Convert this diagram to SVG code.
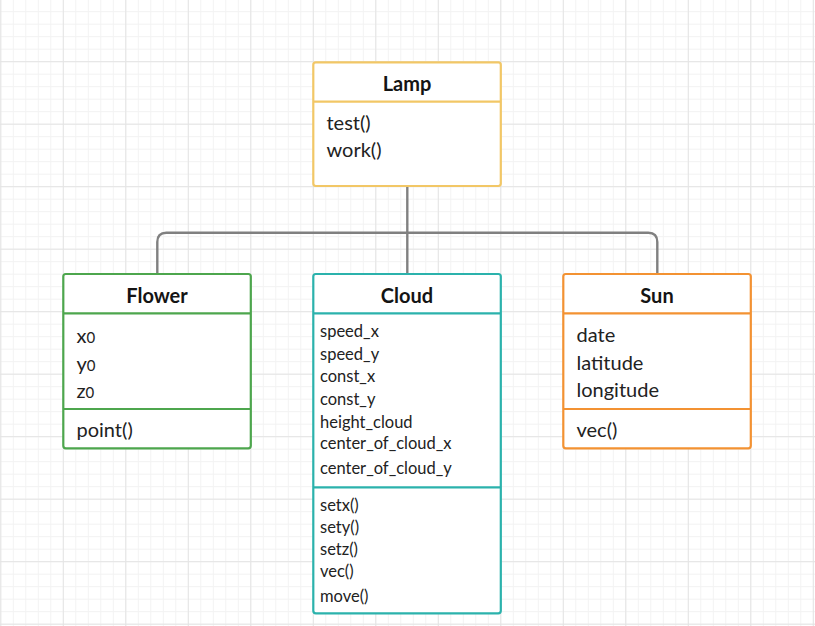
<svg xmlns="http://www.w3.org/2000/svg" width="815" height="626" viewBox="0 0 815 626">
  <defs>
    <pattern id="minor" patternUnits="userSpaceOnUse" x="0.3" y="-1.3" width="12.5" height="12.5">
      <rect x="0" y="0" width="1" height="12.5" fill="#f2f2f2"/>
      <rect x="0" y="0" width="12.5" height="1" fill="#f2f2f2"/>
    </pattern>
    <pattern id="major" patternUnits="userSpaceOnUse" x="0.3" y="-1.3" width="62.5" height="62.5">
      <rect x="0" y="0" width="1" height="62.5" fill="#e4e4e4"/>
      <rect x="0" y="0" width="62.5" height="1" fill="#e4e4e4"/>
    </pattern>
  </defs>
  <style>
    .box { fill: #ffffff; stroke-width: 2.2; }
    .div { stroke-width: 2.2; fill: none; }
    .title { font-family: Lato, "Liberation Sans", sans-serif; font-weight: bold; font-size: 20px; fill: #141414; text-anchor: middle; }
    .body { font-family: Lato, "Liberation Sans", sans-serif; font-size: 20px; fill: #222222; }
    .small { font-family: Lato, "Liberation Sans", sans-serif; font-size: 16.5px; fill: #222222; }
    .sub { font-size: 15px; }
    .conn { fill: none; stroke: #808080; stroke-width: 2.4; }
    .lamp { stroke: #f2c766; }
    .flower { stroke: #4da64d; }
    .cloud { stroke: #2bb2ac; }
    .sun { stroke: #f39232; }
  </style>
  <rect x="0" y="0" width="815" height="626" fill="#ffffff"/>
  <rect x="0" y="0" width="815" height="626" fill="url(#minor)"/>
  <rect x="0" y="0" width="815" height="626" fill="url(#major)"/>

  <g id="connectors">
    <path class="conn" d="M 407.3 186 L 407.3 274"/>
    <path class="conn" d="M 157.3 274 L 157.3 242 Q 157.3 232.7 166.3 232.7 L 648.3 232.7 Q 657.3 232.7 657.3 242 L 657.3 274"/>
  </g>

  <g id="lamp">
    <rect class="box lamp" x="313.3" y="62.3" width="187.5" height="123.7" rx="2.5"/>
    <line class="div lamp" x1="313.3" y1="101.7" x2="500.8" y2="101.7"/>
    <text class="title" x="407" y="90.5">Lamp</text>
    <text class="body" x="326.5" y="130">test()</text>
    <text class="body" x="326.5" y="157.3">work()</text>
  </g>

  <g id="flower">
    <rect class="box flower" x="63.3" y="274" width="187.5" height="174.3" rx="2.5"/>
    <line class="div flower" x1="63.3" y1="313.3" x2="250.8" y2="313.3"/>
    <line class="div flower" x1="63.3" y1="409" x2="250.8" y2="409"/>
    <text class="title" x="157" y="302.7">Flower</text>
    <text class="body" x="76.5" y="343.3">x<tspan class="sub">0</tspan></text>
    <text class="body" x="76.5" y="370.7">y<tspan class="sub">0</tspan></text>
    <text class="body" x="76.5" y="398.3">z<tspan class="sub">0</tspan></text>
    <text class="body" x="76.5" y="436.7">point()</text>
  </g>

  <g id="cloud">
    <rect class="box cloud" x="313.3" y="274" width="187.5" height="339.3" rx="2.5"/>
    <line class="div cloud" x1="313.3" y1="313.3" x2="500.8" y2="313.3"/>
    <line class="div cloud" x1="313.3" y1="487.3" x2="500.8" y2="487.3"/>
    <text class="title" x="407" y="302.7">Cloud</text>
    <text class="small" x="320" y="337.3">speed_x</text>
    <text class="small" x="320" y="360">speed_y</text>
    <text class="small" x="320" y="382.3">const_x</text>
    <text class="small" x="320" y="405">const_y</text>
    <text class="small" x="320" y="427.7">height_cloud</text>
    <text class="small" x="320" y="449.3">center_of_cloud_x</text>
    <text class="small" x="320" y="474.3">center_of_cloud_y</text>
    <text class="small" x="320" y="510.7">setx()</text>
    <text class="small" x="320" y="532.7">sety()</text>
    <text class="small" x="320" y="555">setz()</text>
    <text class="small" x="320" y="577.3">vec()</text>
    <text class="small" x="320" y="602.3">move()</text>
  </g>

  <g id="sun">
    <rect class="box sun" x="563.3" y="274" width="187.5" height="174.3" rx="2.5"/>
    <line class="div sun" x1="563.3" y1="313.3" x2="750.8" y2="313.3"/>
    <line class="div sun" x1="563.3" y1="409" x2="750.8" y2="409"/>
    <text class="title" x="657" y="302.7">Sun</text>
    <text class="body" x="576.5" y="342.3">date</text>
    <text class="body" x="576.5" y="370">latitude</text>
    <text class="body" x="576.5" y="397.3">longitude</text>
    <text class="body" x="576.5" y="436.7">vec()</text>
  </g>
</svg>
